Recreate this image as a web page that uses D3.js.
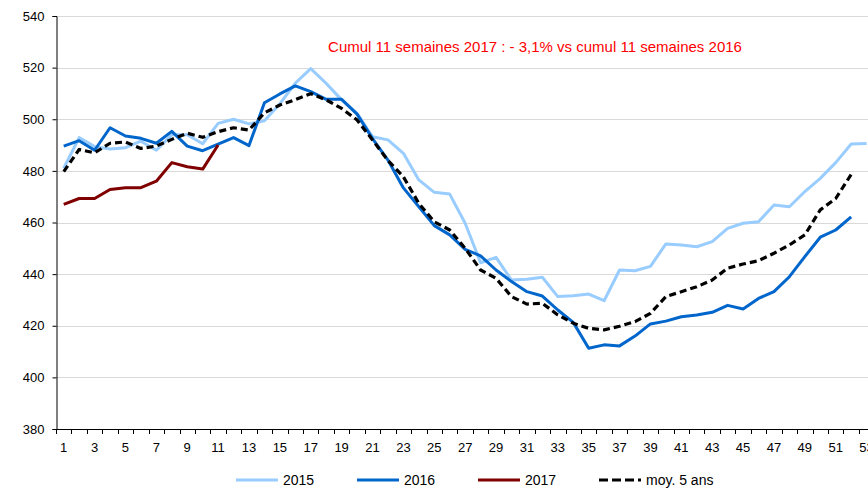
<!DOCTYPE html>
<html>
<head>
<meta charset="utf-8">
<script src="https://cdn.jsdelivr.net/npm/d3@7"></script>
<style>
  body { margin: 0; background: #fff; }
  svg { display: block; font-family: "Liberation Sans", Arial, sans-serif; }
</style>
</head>
<body>
<div id="graphic"></div>
<script>
var weeks = d3.range(1, 54);

var s2015 = [481, 492.9, 489.4, 488.5, 489, 491.5, 488, 494, 494, 490.5, 498.4, 500, 498.2, 499.4, 506, 514, 519.6,
  513.9, 507.5, 502.3, 493.2, 492, 486.8, 476.5, 471.7, 471, 459.7, 444.4, 446.5, 437.7, 438, 438.8, 431.3, 431.6,
  432.3, 429.7, 441.6, 441.3, 443, 451.7, 451.3, 450.6, 452.6, 457.7, 459.7, 460.3, 466.8, 466.1, 472, 477.1, 483.2,
  490.4, 490.6];
var s2016 = [489.6, 491.7, 488, 496.7, 493.5, 492.6, 490.7, 495.3, 489.6, 487.8, 490.4, 492.9, 489.8, 506.4, 509.8,
  512.9, 510.7, 507.7, 507.7, 502, 492.5, 484.2, 473.4, 466.1, 458.8, 455.2, 449.6, 447.1, 441.6, 437.1, 433.2, 431.5,
  426.1, 421.3, 411.3, 412.6, 412.2, 416, 420.7, 421.8, 423.5, 424.2, 425.2, 427.9, 426.5, 430.6, 433.2, 439, 446.8,
  454.3, 457.1, 462.2];
var s2017 = [467, 469.3, 469.3, 472.8, 473.5, 473.5, 476, 483.2, 481.6, 480.7, 490];
var moy = [479.7, 488.3, 487, 490.7, 491.2, 488.7, 489.6, 492.2, 494.6, 493, 495.2, 496.7, 495.8, 502.5, 505.5, 507.6,
  509.9, 507.5, 504.2, 499.7, 492, 484, 477.7, 467.4, 460.3, 457.1, 450, 441.6, 438.4, 431.3, 428.4, 428.7, 424.2, 421,
  419, 418.4, 419.8, 421.6, 424.8, 431.3, 433.2, 435.1, 437.7, 442.3, 443.9, 445.2, 448.1, 451.3, 455.2, 464.9, 469.3,
  478.6];
var yTicks = d3.range(380, 541, 20);
var title = "Cumul 11 semaines 2017 : - 3,1% vs cumul 11 semaines 2016";

var series = [
  { name: "2015", values: s2015, color: "#99ccff", width: 3, dash: null },
  { name: "2016", values: s2016, color: "#0066cc", width: 3, dash: null },
  { name: "2017", values: s2017, color: "#800000", width: 3, dash: null },
  { name: "moy. 5 ans", values: moy, color: "#000000", width: 3.2, dash: "7,4" }
];

var width = 868, height = 489;
var plotLeft = 56, plotTop = 16, plotBottom = 429, step = 15.44;

var svg = d3.select("#graphic").append("svg").attr("width", width).attr("height", height);

var x = d3.scaleBand().domain(weeks).range([plotLeft, plotLeft + step * weeks.length]).padding(0);
var y = d3.scaleLinear().domain([380, 540]).range([plotBottom, plotTop]);
var cx = function(w) { return x(w) + x.bandwidth() / 2; };

// grid
svg.append("g").selectAll("line").data(yTicks.slice(1)).join("line")
  .attr("x1", plotLeft).attr("x2", width)
  .attr("y1", function(d) { return Math.round(y(d)) + 0.5; }).attr("y2", function(d) { return Math.round(y(d)) + 0.5; })
  .attr("stroke", "#d9d9d9").attr("stroke-width", 1);

// y axis
var yAxis = svg.append("g").attr("transform", "translate(" + (plotLeft + 0.5) + ",0)")
  .call(d3.axisLeft(y).tickValues(yTicks).tickSize(4).tickPadding(8));
yAxis.select(".domain").attr("stroke", "#000");
yAxis.selectAll("text").attr("font-size", 13).attr("fill", "#000").attr("font-family", "Liberation Sans, Arial");

// x axis
svg.append("line").attr("x1", plotLeft).attr("x2", width).attr("y1", plotBottom + 0.5).attr("y2", plotBottom + 0.5)
  .attr("stroke", "#000");
svg.append("g").selectAll("line").data(weeks).join("line")
  .attr("x1", function(d) { return Math.round(x(d)) + 0.5; }).attr("x2", function(d) { return Math.round(x(d)) + 0.5; })
  .attr("y1", plotBottom).attr("y2", plotBottom + 5).attr("stroke", "#000");
svg.append("g").selectAll("text").data(weeks.filter(function(d) { return d % 2 === 1; })).join("text")
  .attr("x", cx).attr("y", plotBottom + 23).attr("text-anchor", "middle")
  .attr("font-size", 13).text(function(d) { return d; });

// lines
var line = d3.line().x(function(d, i) { return cx(weeks[i]); }).y(function(d) { return y(d); });
svg.append("g").selectAll("path").data(series).join("path")
  .attr("d", function(d) { return line(d.values); })
  .attr("fill", "none").attr("stroke", function(d) { return d.color; })
  .attr("stroke-width", function(d) { return d.width; })
  .attr("stroke-dasharray", function(d) { return d.dash; })
  .attr("stroke-linejoin", "round");

// title
svg.append("text").attr("x", 535).attr("y", 52).attr("text-anchor", "middle")
  .attr("font-size", 15).attr("fill", "#ff0000").text(title);

// legend
var legend = svg.append("g").selectAll("g").data(series).join("g")
  .attr("transform", function(d, i) { return "translate(" + (236 + i * 121) + ",480)"; });
legend.append("line").attr("x1", 0).attr("x2", 42).attr("y1", 0).attr("y2", 0)
  .attr("stroke", function(d) { return d.color; }).attr("stroke-width", 3)
  .attr("stroke-dasharray", function(d) { return d.dash ? "9,4" : null; });
legend.append("text").attr("x", 47).attr("y", 5).attr("font-size", 14).text(function(d) { return d.name; });
</script>
</body>
</html>
